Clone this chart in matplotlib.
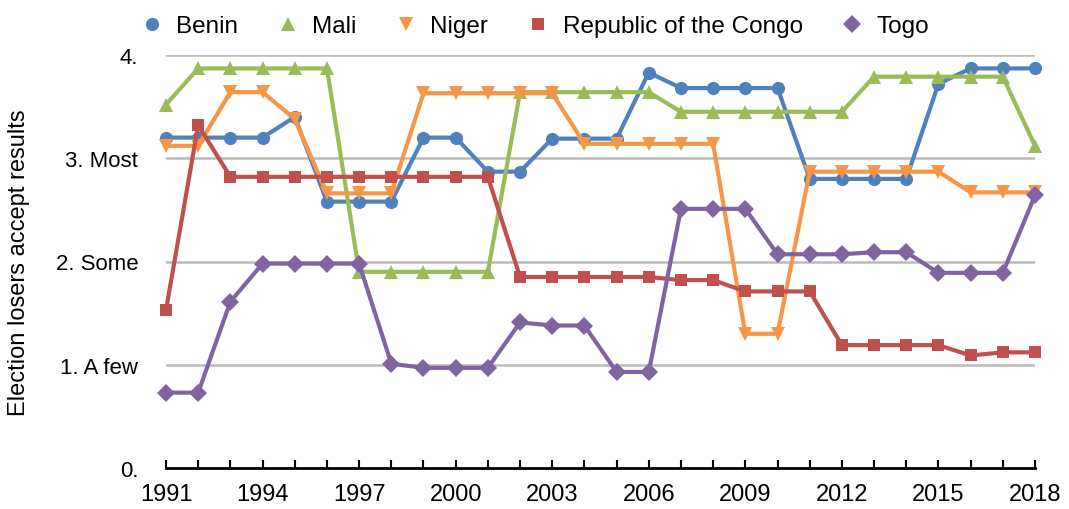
import matplotlib
matplotlib.use("Agg")
import matplotlib.pyplot as plt
from matplotlib.lines import Line2D

years = list(range(1991, 2019))

benin = [3.20, 3.20, 3.20, 3.20, 3.40, 2.58, 2.58, 2.58, 3.20, 3.20,
         2.87, 2.87, 3.19, 3.19, 3.19, 3.83, 3.68, 3.68, 3.68, 3.68,
         2.80, 2.80, 2.80, 2.80, 3.72, 3.87, 3.87, 3.87]
mali = [3.52, 3.87, 3.87, 3.87, 3.87, 3.87, 1.90, 1.90, 1.90, 1.90,
        1.90, 3.64, 3.64, 3.64, 3.64, 3.64, 3.45, 3.45, 3.45, 3.45,
        3.45, 3.45, 3.79, 3.79, 3.79, 3.79, 3.79, 3.12]
niger = [3.12, 3.12, 3.64, 3.64, 3.38, 2.66, 2.66, 2.66, 3.63, 3.63,
         3.63, 3.63, 3.63, 3.14, 3.14, 3.14, 3.14, 3.14, 1.30, 1.30,
         2.87, 2.87, 2.87, 2.87, 2.87, 2.67, 2.67, 2.67]
congo = [1.53, 3.32, 2.82, 2.82, 2.82, 2.82, 2.82, 2.82, 2.82, 2.82,
         2.82, 1.85, 1.85, 1.85, 1.85, 1.85, 1.82, 1.82, 1.71, 1.71,
         1.71, 1.19, 1.19, 1.19, 1.19, 1.09, 1.12, 1.12]
togo = [0.73, 0.73, 1.61, 1.98, 1.98, 1.98, 1.98, 1.01, 0.97, 0.97,
        0.97, 1.41, 1.38, 1.38, 0.93, 0.93, 2.51, 2.51, 2.51, 2.07,
        2.07, 2.07, 2.09, 2.09, 1.89, 1.89, 1.89, 2.64]

series_names = ["Benin", "Mali", "Niger", "Republic of the Congo", "Togo"]
series_values = [benin, mali, niger, congo, togo]
colors = ["#4F81BD", "#9BBB59", "#F79646", "#C0504D", "#8064A2"]
markers = ["o", "^", "v", "s", "D"]
msizes = [9.5, 10.5, 10.5, 9, 9.5]

ytick_vals = [0, 1, 2, 3, 4]
ytick_labels = ["0.", "1. A few", "2. Some", "3. Most", "4."]
xtick_labels = [1991, 1994, 1997, 2000, 2003, 2006, 2009, 2012, 2015, 2018]

plt.rcParams['font.family'] = ['Liberation Sans', 'DejaVu Sans']

fig = plt.figure(figsize=(10.69, 5.10), dpi=100)
ax = fig.add_axes([166/1069, 1 - 469/510, (1035-166)/1069, (469-56)/510])

for name, vals, c, m, ms in zip(series_names, series_values, colors, markers, msizes):
    ax.plot(years, vals, color=c, marker=m, markersize=ms, linewidth=3.0,
            markeredgewidth=0, label=name, clip_on=False, zorder=3)

ax.set_xlim(1991, 2018)
ax.set_ylim(0, 4)
ax.set_yticks(ytick_vals)
ax.set_yticklabels(ytick_labels, fontsize=16)
ax.tick_params(axis='y', length=0, pad=20)
ax.set_xticks(years, minor=False)
ax.set_xticklabels([str(y) if y in xtick_labels else "" for y in years], fontsize=17)
ax.tick_params(axis='x', direction='in', length=6, width=1.5, color='black', pad=11)
for y in ytick_vals[1:]:
    ax.axhline(y, color='#BBBBBB', linewidth=1.8, zorder=1)
for s in ['top', 'right', 'left']:
    ax.spines[s].set_visible(False)
ax.spines['bottom'].set_linewidth(2)
ax.spines['bottom'].set_zorder(2)

ax.set_ylabel("Election losers accept results", fontsize=17)
ax.yaxis.set_label_coords(-136/869, 0.5)

handles = [Line2D([0], [0], color=c, marker=m, markersize=ms, linewidth=0, markeredgewidth=0)
           for c, m, ms in zip(colors, markers, msizes)]
fig.legend(handles, series_names, loc='center', bbox_to_anchor=(535/1069, 1 - 27/510), ncol=5,
           frameon=False, fontsize=17.5, handlelength=0.9, handletextpad=0.55, columnspacing=1.6)

fig.savefig("out.png", dpi=100)
